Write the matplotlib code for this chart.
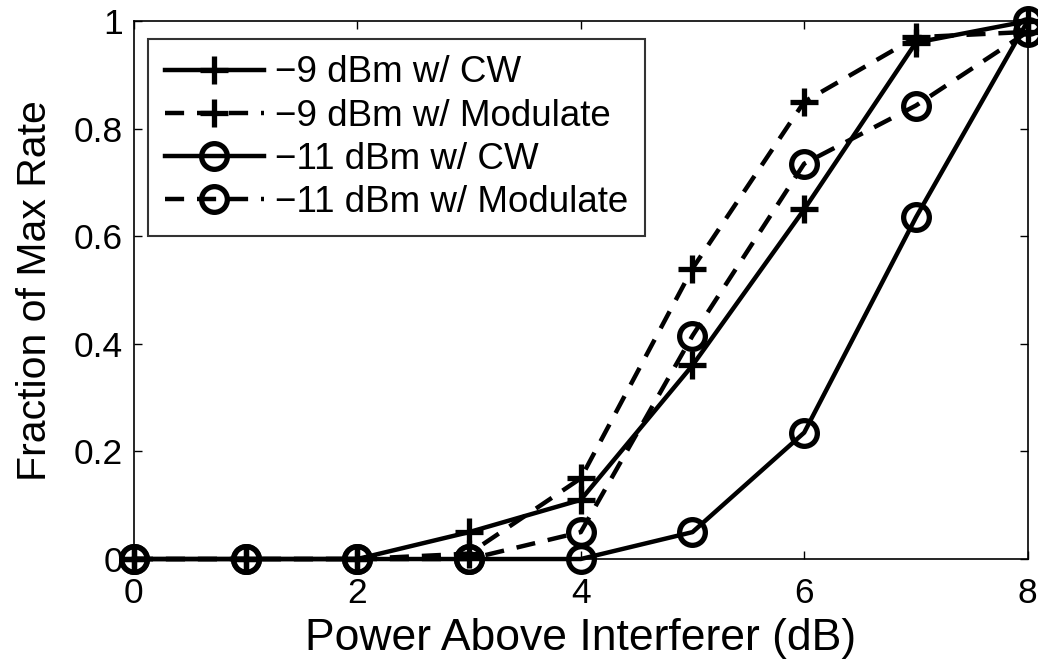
import matplotlib
matplotlib.use("Agg")
import matplotlib.pyplot as plt

plt.rcParams['font.family'] = ['Liberation Sans', 'DejaVu Sans']

x = [0, 1, 2, 3, 4, 5, 6, 7, 8]
m9_cw = [0, 0, 0, 0.05, 0.11, 0.36, 0.65, 0.96, 1.0]
m9_mod = [0, 0, 0, 0.01, 0.15, 0.54, 0.85, 0.97, 0.98]
m11_cw = [0, 0, 0, 0, 0, 0.05, 0.235, 0.635, 1.0]
m11_mod = [0, 0, 0, 0, 0.05, 0.415, 0.735, 0.843, 0.98]
labels = ['\u22129 dBm w/ CW', '\u22129 dBm w/ Modulate', '\u221211 dBm w/ CW', '\u221211 dBm w/ Modulate']
xticks = [0, 2, 4, 6, 8]
xticklabels = ['0', '2', '4', '6', '8']
yticks = [0, 0.2, 0.4, 0.6, 0.8, 1.0]
yticklabels = ['0', '0.2', '0.4', '0.6', '0.8', '1']

fig = plt.figure(figsize=(10.38, 6.6), dpi=100)
ax = fig.add_axes([0.129, 0.153, 0.861, 0.815])

dash = (0, (4.3, 2.9))
lw = 3.2
ax.plot(x, m9_cw, color='k', lw=lw, ls='-', marker='+', ms=20, mew=3.8, label=labels[0], clip_on=False)
ax.plot(x, m9_mod, color='k', lw=lw, ls=dash, marker='+', ms=20, mew=3.8, label=labels[1], clip_on=False)
ax.plot(x, m11_cw, color='k', lw=lw, ls='-', marker='o', ms=18.5, mew=3.8, mfc='none', label=labels[2], clip_on=False)
ax.plot(x, m11_mod, color='k', lw=lw, ls=dash, marker='o', ms=18.5, mew=3.8, mfc='none', label=labels[3], clip_on=False)

ax.set_xlim(0, 8)
ax.set_ylim(0, 1)
ax.set_xticks(xticks)
ax.set_xticklabels(xticklabels)
ax.set_yticks(yticks)
ax.set_yticklabels(yticklabels)
ax.tick_params(direction='in', top=True, right=True, length=6, width=1, labelsize=25.5)
ax.tick_params(axis='x', pad=13)
ax.tick_params(axis='y', pad=8)
for s in ax.spines.values():
    s.set_linewidth(1.2)
ax.set_xlabel('Power Above Interferer (dB)', fontsize=32, labelpad=6)
ax.set_ylabel('Fraction of Max Rate', fontsize=29.5, labelpad=14)

leg = ax.legend(loc='upper left', bbox_to_anchor=(0.016, 0.967), fontsize=26.5, frameon=True,
                fancybox=False, edgecolor='k', handlelength=2.7, handletextpad=0.3,
                borderpad=0.45, labelspacing=0.22, borderaxespad=0)
leg.get_frame().set_linewidth(1.5)

fig.savefig('out.png', dpi=100)
